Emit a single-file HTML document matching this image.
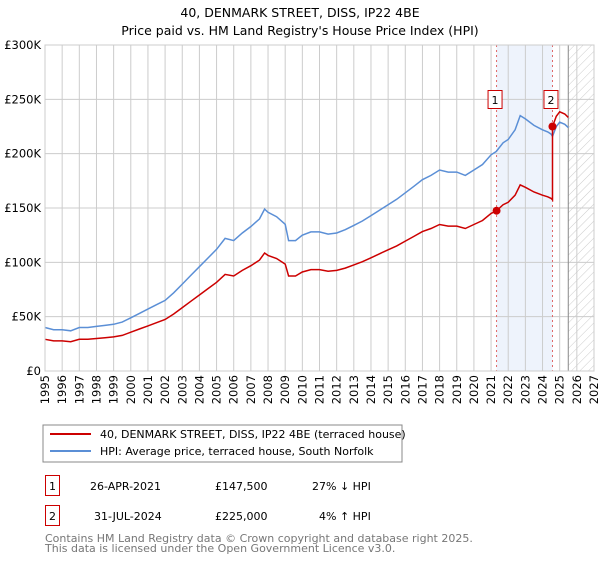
<!DOCTYPE html>
<html><head><meta charset="utf-8"><style>
body{margin:0;background:#fff;width:600px;height:560px;overflow:hidden;font-family:"DejaVu Sans",sans-serif}
svg text{font-family:"DejaVu Sans",sans-serif}
</style></head><body>
<svg id="c" width="600" height="560" xmlns="http://www.w3.org/2000/svg">
<defs><pattern id="hatch" width="6" height="6" patternUnits="userSpaceOnUse" patternTransform="rotate(45)"><line x1="0" y1="0" x2="0" y2="6" stroke="#ccc" stroke-width="1"/></pattern></defs>
<text x="300" y="17" text-anchor="middle" font-size="12.5">40, DENMARK STREET, DISS, IP22 4BE</text>
<text x="300" y="35" text-anchor="middle" font-size="12.5">Price paid vs. HM Land Registry's House Price Index (HPI)</text>
<g id="plot"></g>
<rect x="43" y="425" width="359" height="37" fill="#fff" stroke="#888"/>
<line x1="50" y1="434" x2="91" y2="434" stroke="#cc0000" stroke-width="2"/>
<text x="100" y="438" font-size="11">40, DENMARK STREET, DISS, IP22 4BE (terraced house)</text>
<line x1="50" y1="451" x2="91" y2="451" stroke="#5b8fd6" stroke-width="2"/>
<text x="100" y="455" font-size="11">HPI: Average price, terraced house, South Norfolk</text>
<g font-size="11">
<rect x="45.5" y="475.5" width="14" height="20" fill="#fff" stroke="#cc0000"/>
<text x="52.5" y="490" text-anchor="middle">1</text>
<text x="90" y="490">26-APR-2021</text><text x="215" y="490">£147,500</text><text x="312" y="490">27% ↓ HPI</text>
<rect x="45.5" y="505.5" width="14" height="20" fill="#fff" stroke="#cc0000"/>
<text x="52.5" y="520" text-anchor="middle">2</text>
<text x="94" y="520">31-JUL-2024</text><text x="215" y="520">£225,000</text><text x="319" y="520">4% ↑ HPI</text>
</g>
<text x="45" y="542" font-size="11" fill="#777">Contains HM Land Registry data © Crown copyright and database right 2025.</text>
<text x="45" y="552" font-size="11" fill="#777">This data is licensed under the Open Government Licence v3.0.</text>
</svg>
<script>
const hpiYears=[1995,1995.5,1996,1996.5,1997,1997.5,1998,1998.5,1999,1999.5,2000,2000.5,2001,2001.5,2002,2002.5,2003,2003.5,2004,2004.5,2005,2005.5,2006,2006.5,2007,2007.5,2007.8,2008,2008.5,2009,2009.2,2009.6,2010,2010.5,2011,2011.5,2012,2012.5,2013,2013.5,2014,2014.5,2015,2015.5,2016,2016.5,2017,2017.5,2018,2018.5,2019,2019.5,2020,2020.5,2021,2021.3,2021.7,2022,2022.4,2022.7,2023,2023.5,2024,2024.3,2024.5,2024.58,2024.8,2025,2025.3,2025.5];
const hpiValues=[40,38,38,37,40,40,41,42,43,45,49,53,57,61,65,72,80,88,96,104,112,122,120,127,133,140,149,146,142,135,120,120,125,128,128,126,127,130,134,138,143,148,153,158,164,170,176,180,185,183,183,180,185,190,199,202,210,213,222,235,232,226,222,220,218,216,225,229,227,224];
const saleYears=[2021.32,2024.58];
const salePrices=[147.5,225];
const xTicks=[1995,1996,1997,1998,1999,2000,2001,2002,2003,2004,2005,2006,2007,2008,2009,2010,2011,2012,2013,2014,2015,2016,2017,2018,2019,2020,2021,2022,2023,2024,2025,2026,2027];
const yTicks=[0,50,100,150,200,250,300];
const yLabels=["£0","£50K","£100K","£150K","£200K","£250K","£300K"];
const L=45,R=594,T=45,B=371,X0=1995,X1=2027,YMAX=300,HATCH=2025.5;
const xs=v=>L+(v-X0)/(X1-X0)*(R-L), ys=v=>B-v/YMAX*(B-T);
const NS="http://www.w3.org/2000/svg",g=document.getElementById('plot');
function mk(t,a,p){const e=document.createElementNS(NS,t);for(const k in a)e.setAttribute(k,a[k]);(p||g).appendChild(e);return e;}
const band=mk('rect',{x:xs(saleYears[0]),y:T,width:xs(saleYears[1])-xs(saleYears[0]),height:B-T,fill:'#eef3fc'});


const hat=mk('rect',{x:xs(HATCH),y:T,width:R-xs(HATCH),height:B-T,fill:'url(#hatch)'});


xTicks.forEach(t=>{const l=mk('line',{x1:xs(t),x2:xs(t),y1:T,y2:B,stroke:'#ccc'});


const px=xs(t)+4,py=B+4;
const tx=mk('text',{x:px,y:py,'text-anchor':'end','font-size':'11.5',transform:'rotate(-90 '+px+' '+py+')'});tx.textContent=t;

});
yTicks.forEach((t,i)=>{const l=mk('line',{x1:L,x2:R,y1:ys(t),y2:ys(t),stroke:'#ccc'});


const tx=mk('text',{x:L-4,y:ys(t)+4,'text-anchor':'end','font-size':'11.5'});tx.textContent=yLabels[i];

});
const hl=mk('line',{x1:xs(HATCH),x2:xs(HATCH),y1:T,y2:B,stroke:'#888'});


saleYears.forEach((s,i)=>{const l=mk('line',{x1:xs(s),x2:xs(s),y1:T,y2:B,stroke:'#e06666','stroke-dasharray':'2,3'});

});
function hpiAt(y){for(let i=1;i<hpiYears.length;i++)if(y<=hpiYears[i]){const f=(y-hpiYears[i-1])/(hpiYears[i]-hpiYears[i-1]);return hpiValues[i-1]+f*(hpiValues[i]-hpiValues[i-1]);}return hpiValues[hpiValues.length-1];}
let pb='';hpiYears.forEach((y,i)=>{pb+=(i?'L':'M')+xs(y).toFixed(1)+','+ys(hpiValues[i]).toFixed(1);});
const hp=mk('path',{d:pb,fill:'none',stroke:'#5b8fd6','stroke-width':1.5});


const r1=salePrices[0]/hpiAt(saleYears[0]),r2=salePrices[1]/hpiAt(saleYears[1]);
let pr='';hpiYears.forEach((y,i)=>{if(y<saleYears[1])pr+=(i?'L':'M')+xs(y).toFixed(1)+','+ys(hpiValues[i]*r1).toFixed(1);});
pr+='L'+xs(saleYears[1]).toFixed(1)+','+ys(hpiAt(saleYears[1])*r1).toFixed(1);
pr+='L'+xs(saleYears[1]).toFixed(1)+','+ys(salePrices[1]).toFixed(1);
hpiYears.forEach((y,i)=>{if(y>saleYears[1])pr+='L'+xs(y).toFixed(1)+','+ys(hpiValues[i]*r2).toFixed(1);});
const pp=mk('path',{d:pr,fill:'none',stroke:'#cc0000','stroke-width':1.5});


saleYears.forEach((s,i)=>{const c=mk('circle',{cx:xs(s),cy:ys(salePrices[i]),r:4,fill:'#cc0000'});


const bx=mk('rect',{x:xs(s)-8.5,y:90.5,width:14,height:18,fill:'#fff',stroke:'#cc0000'});


const t=mk('text',{x:xs(s)-1.5,y:104,'text-anchor':'middle','font-size':'11'});t.textContent=String(i+1);

});
const fr=mk('rect',{x:L,y:T,width:R-L,height:B-T,fill:'none',stroke:'#ccc'});


</script>
</body></html>
